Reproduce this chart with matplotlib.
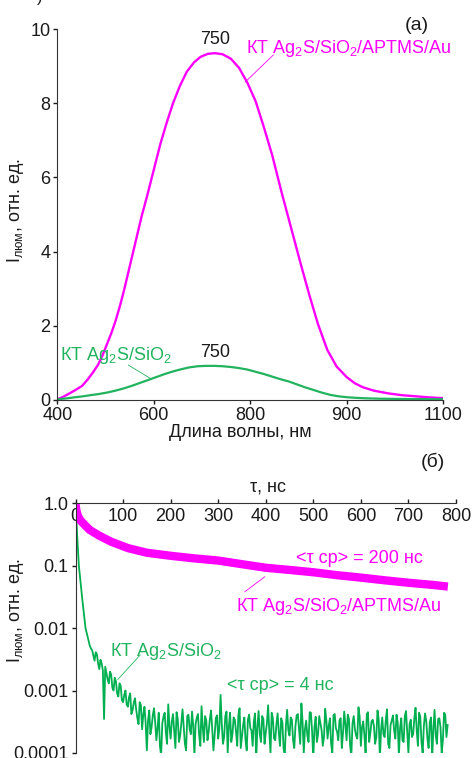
import numpy as np
import matplotlib
matplotlib.use('Agg')
import matplotlib.pyplot as plt

plt.rcParams['font.family'] = ['Liberation Sans', 'DejaVu Sans']
plt.rcParams['mathtext.fontset'] = 'custom'
plt.rcParams['mathtext.rm'] = 'Liberation Sans'
plt.rcParams['mathtext.it'] = 'Liberation Sans'
plt.rcParams['mathtext.default'] = 'regular'

MAG = '#ff00ff'
GRN = '#22b35e'
TXT = '#1a1a1a'
FS = 13

# (а) spectra, x in axis units (axis drawn 400..1100, tick labels as in original)
wl_au = [400, 410, 420, 432, 445, 455, 465, 474, 482, 490, 498, 505, 513, 521, 529,
         537, 545, 553, 563, 575, 587, 598, 610, 622, 635, 648, 660, 673, 686, 700,
         715, 730, 745, 760, 775, 790, 807, 825, 843, 858, 873, 890, 907, 925, 940,
         955, 975, 1000, 1025, 1050, 1075, 1100]
pl_au = [0.02, 0.08, 0.16, 0.26, 0.38, 0.55, 0.75, 0.95, 1.2, 1.5, 1.8, 2.1, 2.5, 2.95, 3.45,
         3.95, 4.45, 4.95, 5.5, 6.2, 6.9, 7.45, 8.0, 8.45, 8.85, 9.1, 9.25, 9.33, 9.35, 9.32,
         9.2, 8.95, 8.55, 8.05, 7.35, 6.6, 5.6, 4.6, 3.6, 2.8, 2.05, 1.35, 0.9, 0.62, 0.45,
         0.34, 0.25, 0.18, 0.13, 0.1, 0.07, 0.05]
wl_si = [400, 415, 430, 447, 460, 475, 490, 505, 520, 535, 550, 565, 580, 595, 610,
         625, 640, 655, 670, 685, 700, 715, 730, 745, 760, 775, 790, 805, 820, 835,
         850, 865, 880, 895, 910, 925, 940, 960, 985, 1010, 1040, 1070, 1100]
pl_si = [0.02, 0.04, 0.07, 0.1, 0.13, 0.16, 0.2, 0.25, 0.31, 0.38, 0.46, 0.54, 0.62, 0.7, 0.77,
         0.83, 0.88, 0.91, 0.92, 0.92, 0.91, 0.89, 0.86, 0.82, 0.76, 0.7, 0.63, 0.56, 0.5, 0.42,
         0.34, 0.27, 0.2, 0.14, 0.1, 0.075, 0.06, 0.045, 0.035, 0.03, 0.025, 0.022, 0.02]
x_ticks_lbl = ['400', '600', '800', '900', '1100']

# (б) decay curves
t_au = [0, 2, 5, 10, 20, 30, 50, 75, 110, 150, 200, 250, 300, 350, 400, 450, 500,
        550, 600, 650, 700, 750, 783]
i_au = [0.95, 0.75, 0.62, 0.53, 0.44, 0.37, 0.3, 0.24, 0.19, 0.16, 0.143, 0.13, 0.12,
        0.105, 0.092, 0.085, 0.078, 0.07, 0.064, 0.058, 0.053, 0.049, 0.046]

t_si_head = [0, 3, 7, 10, 14, 18, 21]
i_si_head = [1.0, 0.35, 0.1, 0.06, 0.03, 0.016, 0.01]
# tail read in units of 1e-4, two interleaved sample sets
t_si_a = np.arange(25, 785, 5)
i_si_a = [75, 52, 44, 30, 38, 22, 27, 3.5, 19, 13, 18, 10, 14, 8, 12,
          6.5, 10, 5.5, 9, 4.8, 7.5, 3.6, 6.5, 2.4, 5.5,
          1.1, 4.8, 2.6, 5.2, 1.6, 4.4, 0.9, 3.8, 2.1, 6.0,
          1.7, 4.2, 1.2, 3.5, 1.9, 5.0, 1.4, 3.9, 2.4, 4.6,
          0.9, 3.7, 1.9, 5.6, 1.5, 3.3, 2.2, 4.8, 1.1, 3.6,
          1.7, 8.5, 1.4, 3.9, 1.0, 4.4, 2.0, 3.4, 1.3, 5.2,
          1.8, 3.7, 1.1, 4.1, 2.3, 3.2, 0.8, 4.7, 1.5, 3.5,
          2.1, 5.8, 1.0, 3.6, 1.6, 4.3, 1.3, 3.1, 0.9, 4.9,
          1.9, 3.4, 1.2, 4.0, 2.4, 6.2, 1.0, 3.3, 1.5, 4.4,
          0.8, 3.8, 2.0, 3.0, 1.3, 5.1, 1.7, 3.6, 1.0, 4.2,
          2.2, 3.3, 1.2, 4.6, 1.6, 3.5, 0.9, 3.9, 1.9, 5.4,
          1.3, 3.2, 1.0, 4.5, 2.1, 3.4, 1.4, 4.8, 0.8, 3.7,
          1.8, 5.0, 1.2, 3.3, 2.3, 4.1, 0.9, 3.6, 1.5, 4.7,
          1.0, 3.4, 2.0, 5.3, 1.3, 3.8, 1.0, 4.3, 1.7, 3.1,
          0.8, 4.9, 1.4, 3.6, 1.0, 4.4, 1.8]
t_si_b = np.arange(27.5, 785, 5)
i_si_b = [62, 47, 36, 41, 27, 31, 21, 24, 15, 20, 11, 16, 9, 13, 7,
          8.5, 6, 7.8, 4.2, 6.4, 5.0, 2.9, 5.8, 4.1, 3.0,
          3.3, 2.0, 4.0, 3.1, 2.5, 1.3, 3.0, 4.4, 1.4, 2.7,
          3.2, 2.3, 4.5, 1.5, 3.0, 2.6, 1.1, 4.1, 2.0, 2.8,
          2.9, 4.2, 1.3, 2.6, 3.9, 1.6, 3.5, 2.4, 1.9, 4.0,
          2.5, 3.0, 1.8, 4.6, 2.7, 1.5, 3.7, 2.2, 4.1, 1.2,
          2.8, 1.6, 3.4, 2.5, 1.3, 4.3, 2.6, 2.0, 3.9, 1.4,
          3.0, 2.2, 4.4, 1.7, 2.9, 2.1, 3.6, 1.2, 2.8, 2.3,
          3.7, 1.6, 2.7, 4.2, 1.4, 3.1, 2.4, 1.9, 4.5, 2.2,
          2.6, 1.5, 3.9, 2.3, 1.8, 3.3, 2.7, 1.4, 4.0, 2.5,
          1.6, 3.6, 2.1, 2.9, 4.1, 1.3, 3.0, 2.4, 1.7, 3.8,
          2.6, 1.9, 4.2, 1.5, 3.2, 2.7, 1.8, 3.5, 2.3, 2.0,
          3.4, 1.4, 2.8, 4.0, 1.7, 3.1, 2.5, 1.6, 3.9, 2.2,
          2.9, 1.8, 3.6, 2.3, 4.4, 1.5, 2.7, 3.3, 1.2, 3.7,
          2.4, 1.9, 3.5, 2.6, 1.6, 4.1, 2.8]

fig = plt.figure(figsize=(4.72, 7.58), dpi=100)

# ---------- top panel ----------
ax1 = fig.add_axes([0.1214, 0.4723, 0.8172, 0.4894])
ax1.plot(wl_au, pl_au, color=MAG, lw=1.7)
ax1.plot(wl_si, pl_si, color=GRN, lw=1.6)
ax1.set_xlim(400, 1100)
ax1.set_ylim(0, 10)
ax1.set_xticks(np.linspace(400, 1100, 5))
ax1.set_xticklabels(x_ticks_lbl)
ax1.set_yticks([0, 2, 4, 6, 8, 10])
for s in ['top', 'right']:
    ax1.spines[s].set_visible(False)
for s in ['left', 'bottom']:
    ax1.spines[s].set_color('#333333')
ax1.tick_params(direction='out', length=3, width=1, labelsize=FS, colors=TXT, pad=2)

ax1.text(686, 9.73, '750', ha='center', va='center', fontsize=FS, color=TXT)
ax1.text(686, 1.27, '750', ha='center', va='center', fontsize=FS, color=TXT)
ax1.text(742, 9.35, 'КТ Ag$_2$S/SiO$_2$/APTMS/Au', ha='left', va='baseline',
         fontsize=FS, color=MAG)
ax1.plot([792, 741], [9.30, 8.57], color=MAG, lw=0.6)
ax1.text(405, 1.08, 'КТ Ag$_2$S/SiO$_2$', ha='left', va='baseline', fontsize=FS, color=GRN)
ax1.plot([529, 568], [0.94, 0.59], color=GRN, lw=0.6)

fig.text(0.51, 0.43, 'Длина волны, нм', ha='center', va='center', fontsize=FS, color=TXT)
fig.text(0.032, 0.723, 'I$_{люм}$, отн. ед.', rotation=90, ha='center', va='center',
         fontsize=FS, color=TXT)
fig.text(0.884, 0.967, '(а)', ha='center', va='center', fontsize=14, color=TXT)
fig.text(0.085, 1.003, ')', ha='center', va='center', fontsize=12, color=TXT)

# ---------- bottom panel ----------
ax2 = fig.add_axes([0.16, 0.0066, 0.806, 0.3298])
t_si = np.concatenate([t_si_head, t_si_a, t_si_b])
i_si = np.concatenate([i_si_head, np.array(i_si_a) * 1e-4, np.array(i_si_b) * 1e-4])
order = np.argsort(t_si)
ax2.plot(t_si[order], i_si[order], color='#00b050', lw=1.3)
ax2.plot(t_au, i_au, color=MAG, lw=6, solid_capstyle='butt')
ax2.set_yscale('log')
ax2.set_xlim(0, 800)
ax2.set_ylim(1e-4, 1)
ax2.set_yticks([1, 0.1, 0.01, 0.001, 0.0001])
ax2.set_yticklabels(['1.0', '0.1', '0.01', '0.001', '0.0001'])
ax2.yaxis.set_minor_locator(matplotlib.ticker.NullLocator())
ax2.set_xticks(np.arange(0, 801, 100))
ax2.xaxis.set_ticks_position('top')
for s in ['bottom', 'right']:
    ax2.spines[s].set_visible(False)
for s in ['left', 'top']:
    ax2.spines[s].set_color('#333333')
ax2.tick_params(axis='y', direction='out', length=3, width=1, labelsize=FS, colors=TXT, pad=2)
ax2.tick_params(axis='x', direction='out', length=3, width=1, labelsize=FS, colors=TXT,
                labeltop=True, labelbottom=False, pad=-19)

ax2.text(598, 0.11, '<τ ср> = 200 нс', ha='center', va='baseline', fontsize=FS, color=MAG)
ax2.text(337, 0.0187, 'КТ Ag$_2$S/SiO$_2$/APTMS/Au', ha='left', va='baseline',
         fontsize=FS, color=MAG)
ax2.plot([356, 398], [0.038, 0.066], color=MAG, lw=0.6)
ax2.text(72, 0.0035, 'КТ Ag$_2$S/SiO$_2$', ha='left', va='baseline', fontsize=FS, color=GRN)
ax2.plot([136, 89], [0.0037, 0.0015], color=GRN, lw=0.6)
ax2.text(319, 0.00102, '<τ ср> = 4 нс', ha='left', va='baseline', fontsize=FS, color=GRN)

fig.text(0.568, 0.357, 'τ, нс', ha='center', va='center', fontsize=FS, color=TXT)
fig.text(0.918, 0.3905, '(б)', ha='center', va='center', fontsize=14, color=TXT)
fig.text(0.032, 0.195, 'I$_{люм}$, отн. ед.', rotation=90, ha='center', va='center',
         fontsize=FS, color=TXT)

fig.savefig('out.png', dpi=100)
